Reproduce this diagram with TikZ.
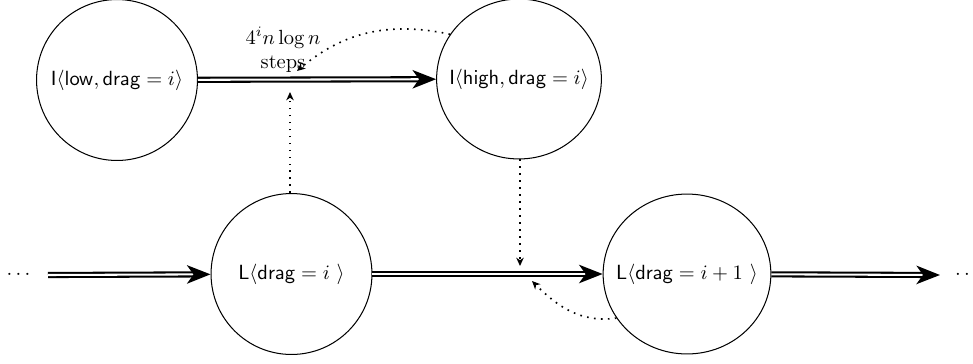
\documentclass[tikz,border=0pt]{standalone}
\usetikzlibrary{arrows.meta,shapes.geometric}
\tikzset{
  state/.style={draw, line width=0.5pt, circle, inner sep=0pt, minimum size=78.5pt},
  statee/.style={draw, line width=0.5pt, ellipse, inner xsep=-5.6pt, inner ysep=0pt, minimum width=75.1pt, minimum height=78pt},
  dbl/.style={double, double distance=1pt, line width=1pt, -{Stealth[length=11.5pt,width=9pt,inset=3.2pt]}},
  dotarrow/.style={line width=0.8pt, dash pattern=on 0.8pt off 2.6pt, -{Stealth[length=4pt,width=3.6pt,inset=1.2pt]}},
}
\begin{document}
\begin{tikzpicture}[x=0.4878pt, y=-0.4878pt]
\useasboundingbox (0,0) rectangle (973,363);
\node[state]  (low)  at (117,80)  {$\mathsf{I}\langle\mathsf{low},\mathsf{drag}=i\rangle$};
\node[statee] (high) at (519,79)  {$\mathsf{I}\langle\mathsf{high},\mathsf{drag}=i\rangle$};
\node[state]  (Li)   at (291.5,274) {$\mathsf{L}\langle\mathsf{drag}=i\ \rangle$};
\node[statee] (Lj)   at (687,274) {$\mathsf{L}\langle\mathsf{drag}=i+1\ \rangle$};
\node (ldots) at (18.5,275) {$\cdots$};
\node (rdots) at (967,275) {$\cdots$};
\node[align=center] (lbl) at (283,50) {$4^i n\log n$\\steps};
\coordinate (ls) at (48,275);
\coordinate (re) at (940,275);
\coordinate (t1) at (290,92);
\coordinate (t2) at (520,266);
\coordinate (t3) at (297,71);
\coordinate (t4) at (532,281);
\draw[dbl] (low) -- (high);
\draw[dbl] (ls) -- (Li);
\draw[dbl] (Li) -- (Lj);
\draw[dbl] (Lj) -- (re);
\draw[dotarrow] (Li.north -| t1) -- (t1);
\draw[dotarrow] (high.south -| t2) -- (t2);
\draw[dotarrow] (high.147) to[out=168,in=40] (t3);
\draw[dotarrow] (Lj.212) to[out=188,in=-45] (t4);
\end{tikzpicture}
\end{document}
